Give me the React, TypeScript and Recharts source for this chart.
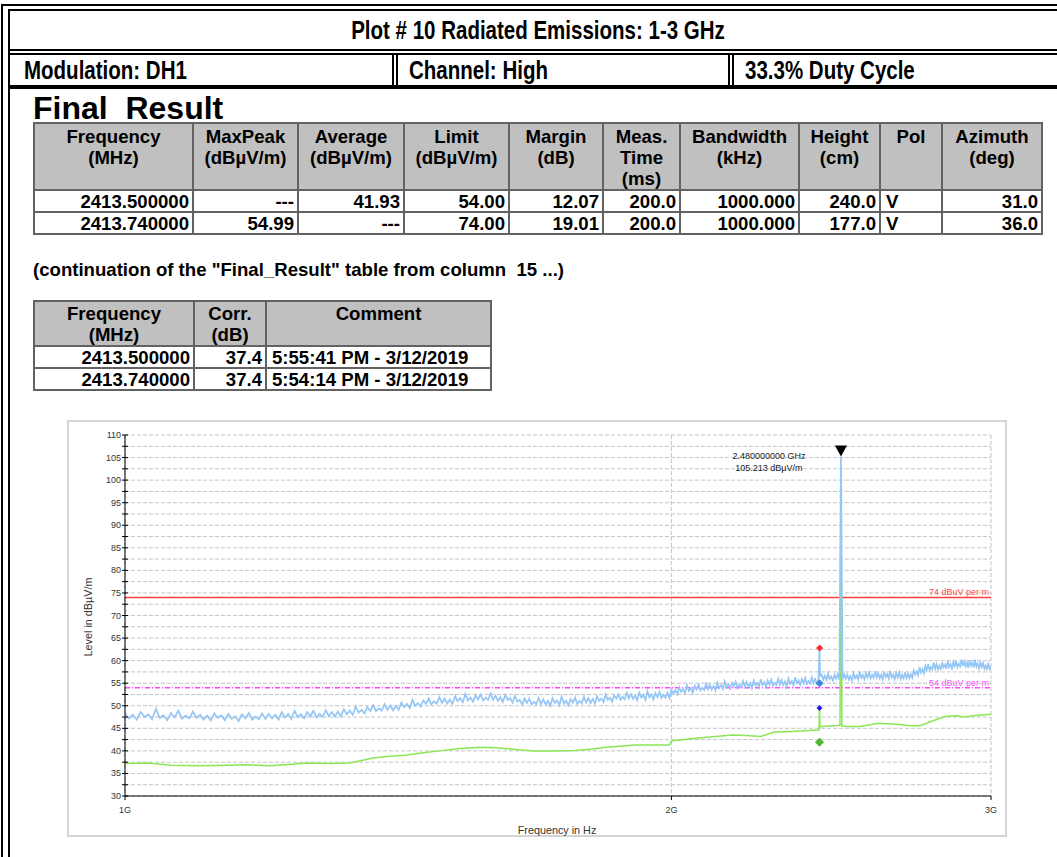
import React from 'react';
import { ComposedChart, Line, Scatter, XAxis, YAxis, CartesianGrid, ReferenceLine } from 'recharts';

// peak trace (MaxPeak, light blue), one value every 5 MHz from 1 GHz to 3 GHz
const PEAK_START_GHZ = 1.0;
const PEAK_STEP_GHZ = 0.005;
const PEAK_LEVELS = [
  // 1.0
  48.3, 47.2, 48.0, 46.9, 48.6, 47.5, 48.1, 47.0, 49.3, 47.3, 47.9, 46.8, 48.4, 47.4, 48.9, 47.1, 47.8, 47.2, 48.7, 47.3,
  // 1.1
  48.0, 46.9, 47.8, 46.7, 48.3, 47.3, 47.9, 46.8, 48.2, 47.1, 47.7, 46.6, 48.1, 47.2, 48.4, 46.9, 47.6, 47.0, 48.3, 47.1,
  // 1.2
  48.2, 47.2, 48.0, 46.9, 48.6, 47.4, 48.2, 47.1, 48.9, 47.5, 48.1, 47.2, 48.6, 47.6, 48.9, 47.4, 48.2, 47.5, 49.0, 47.7,
  // 1.3
  48.6, 47.6, 48.7, 47.6, 49.2, 48.1, 48.9, 48.0, 49.8, 48.5, 49.1, 48.3, 49.7, 48.8, 50.1, 48.8, 49.4, 48.9, 50.4, 49.1,
  // 1.4
  50.1, 49.0, 50.0, 49.1, 50.7, 49.7, 50.4, 49.5, 51.3, 50.0, 50.6, 49.8, 51.2, 50.4, 51.6, 50.3, 51.0, 50.5, 51.9, 50.6,
  // 1.5
  51.6, 50.5, 51.4, 50.4, 52.1, 51.0, 51.7, 50.8, 52.6, 51.2, 51.8, 50.9, 52.3, 51.4, 52.5, 51.2, 51.8, 51.3, 52.7, 51.3,
  // 1.6
  52.2, 51.1, 51.9, 50.8, 52.4, 51.3, 51.7, 50.7, 52.2, 50.9, 51.3, 50.3, 51.6, 50.6, 51.6, 50.3, 50.9, 50.3, 51.7, 50.4,
  // 1.7
  51.4, 50.3, 51.1, 50.0, 51.7, 50.6, 51.2, 50.1, 52.0, 50.5, 51.1, 50.1, 51.5, 50.7, 51.8, 50.4, 51.1, 50.5, 52.0, 50.7,
  // 1.8
  51.7, 50.6, 51.5, 50.5, 52.1, 51.1, 51.6, 50.8, 52.5, 51.3, 51.8, 50.9, 52.3, 51.6, 52.5, 51.3, 52.0, 51.4, 52.9, 51.6,
  // 1.9
  52.6, 51.5, 52.3, 51.2, 52.9, 51.8, 52.4, 51.3, 53.2, 51.9, 52.5, 51.4, 52.8, 51.9, 53.1, 51.7, 52.4, 51.8, 52.9, 51.7,
  // 2.0
  53.6, 52.7, 53.5, 52.5, 54.1, 53.1, 53.7, 52.8, 54.5, 53.3, 53.9, 52.9, 54.4, 53.6, 54.7, 53.4, 54.0, 53.5, 54.9, 53.7,
  // 2.1
  54.7, 53.6, 54.4, 53.4, 55.1, 54.0, 54.6, 53.7, 55.4, 54.1, 54.7, 53.8, 55.1, 54.3, 55.3, 54.0, 54.6, 54.1, 55.5, 54.2,
  // 2.2
  55.3, 54.2, 55.0, 53.9, 55.6, 54.5, 55.1, 54.1, 55.9, 54.6, 55.2, 54.2, 55.6, 54.7, 55.8, 54.5, 55.1, 54.6, 56.0, 54.7,
  // 2.3
  55.7, 54.6, 55.4, 54.3, 56.0, 54.9, 55.5, 54.5, 56.3, 55.0, 55.6, 54.6, 55.9, 55.0, 56.2, 54.8, 55.4, 54.9, 56.3, 55.0,
  // 2.4
  55.9, 55.0, 55.6, 56.6, 56.9, 55.8, 56.6, 55.7, 57.1, 55.9, 56.5, 55.6, 56.9, 56.0, 57.0, 55.8, 105.2, 55.9, 57.0, 56.0,
  // 2.5
  56.9, 55.8, 56.6, 55.6, 57.2, 56.1, 56.7, 55.8, 57.5, 56.2, 56.8, 55.9, 57.2, 56.3, 57.4, 56.1, 56.8, 56.2, 57.6, 56.3,
  // 2.6
  57.2, 56.1, 56.9, 55.9, 57.5, 56.4, 57.0, 56.0, 57.7, 56.3, 56.9, 55.9, 57.3, 56.3, 57.4, 56.0, 56.8, 56.1, 57.4, 56.1,
  // 2.7
  57.1, 56.1, 57.0, 56.2, 57.8, 56.9, 57.6, 56.8, 58.6, 57.4, 58.1, 57.2, 58.8, 57.9, 59.2, 57.9, 58.6, 58.1, 59.6, 58.2,
  // 2.8
  59.2, 58.1, 58.9, 57.9, 59.6, 58.5, 59.1, 58.2, 60.0, 58.6, 59.2, 58.3, 59.7, 58.8, 59.9, 58.6, 59.3, 58.7, 60.2, 58.8,
  // 2.9
  59.8, 58.7, 59.5, 58.4, 60.1, 58.9, 59.5, 58.5, 60.2, 58.7, 59.3, 58.3, 59.6, 58.6, 59.5, 58.2, 58.9, 58.2, 59.3, 58.2,
  58.6,
];
const PEAK_SPIKE_GHZ = [2.4135];
const PEAK_SPIKE_LEVELS = [62.8];

// average trace (green)
const AVG_GHZ = [
  1.0, 1.03, 1.06, 1.1, 1.14, 1.17, 1.2, 1.23, 1.26, 1.3, 1.33, 1.37, 1.4, 1.43, 1.46, 1.49, 1.53, 1.57, 1.6, 1.64,
  1.68, 1.72, 1.77, 1.81, 1.84, 1.88, 1.91, 1.95, 1.995, 2.0, 2.05, 2.1, 2.16, 2.2, 2.24, 2.28, 2.33, 2.38, 2.412,
  2.4135, 2.415, 2.42, 2.47, 2.477, 2.48, 2.483, 2.5, 2.54, 2.6, 2.66, 2.7, 2.74, 2.78, 2.83, 2.87, 2.9, 2.95, 3.0,
];
const AVG_LEVELS = [
  37.2, 37.3, 36.8, 36.7, 36.8, 36.9, 36.7, 37.0, 37.3, 37.2, 37.3, 38.4, 38.8, 39.1, 39.6, 40.0, 40.5, 40.8, 40.7, 40.3,
  40.0, 40.0, 40.1, 40.4, 40.8, 41.1, 41.3, 41.3, 41.3, 42.2, 42.7, 43.1, 43.5, 43.4, 43.2, 44.2, 44.3, 44.5, 44.6,
  49.5, 45.3, 45.4, 45.6, 45.6, 100.0, 45.5, 45.4, 45.4, 46.1, 45.9, 45.6, 45.5, 46.5, 47.6, 47.8, 47.5, 47.9, 48.1,
];

// final / preview result markers
const FINAL_PEAK_GHZ = [2.41374];
const FINAL_PEAK_LEVELS = [54.99];
const FINAL_AVG_GHZ = [2.4135];
const FINAL_AVG_LEVELS = [41.93];
const PREVIEW_PEAK_GHZ = [2.41374];
const PREVIEW_PEAK_LEVELS = [62.8];
const PREVIEW_AVG_GHZ = [2.4135];
const PREVIEW_AVG_LEVELS = [49.5];

const MARKER_GHZ = [2.48];
const MARKER_LEVELS = [105.213];
const MARKER_TEXT = ['2.480000000 GHz', '105.213 dBµV/m'];

const LIMIT_PEAK = 74;
const LIMIT_AVG = 54;
const LIMIT_PEAK_LABEL = '74 dBuV per m';
const LIMIT_AVG_LABEL = '54 dBuV per m';

const X_TICKS = [1, 2, 3];
const X_TICK_LABELS = ['1G', '2G', '3G'];
const Y_TICKS = [
  30, 32.5, 35, 37.5, 40, 42.5, 45, 47.5, 50, 52.5, 55, 57.5, 60, 62.5, 65, 67.5, 70, 72.5, 75, 77.5, 80, 82.5, 85,
  87.5, 90, 92.5, 95, 97.5, 100, 102.5, 105, 107.5, 110,
];

// tables
const T1_HEAD = [
  ['Frequency', '(MHz)'], ['MaxPeak', '(dBµV/m)'], ['Average', '(dBµV/m)'], ['Limit', '(dBµV/m)'], ['Margin', '(dB)'],
  ['Meas.', 'Time', '(ms)'], ['Bandwidth', '(kHz)'], ['Height', '(cm)'], ['Pol'], ['Azimuth', '(deg)'],
];
const T1_ROWS = [
  ['2413.500000', '---', '41.93', '54.00', '12.07', '200.0', '1000.000', '240.0', 'V', '31.0'],
  ['2413.740000', '54.99', '---', '74.00', '19.01', '200.0', '1000.000', '177.0', 'V', '36.0'],
];
const T2_HEAD = [['Frequency', '(MHz)'], ['Corr.', '(dB)'], ['Comment']];
const T2_ROWS = [
  ['2413.500000', '37.4', '5:55:41 PM - 3/12/2019'],
  ['2413.740000', '37.4', '5:54:14 PM - 3/12/2019'],
];

const SANS = '"Liberation Sans", Arial, Helvetica, sans-serif';

const peakData = PEAK_LEVELS.map((v, i) => ({ f: +(PEAK_START_GHZ + i * PEAK_STEP_GHZ).toFixed(4), v }))
  .concat(PEAK_SPIKE_GHZ.map((f, i) => ({ f, v: PEAK_SPIKE_LEVELS[i] })))
  .sort((a, b) => a.f - b.f);
const avgData = AVG_GHZ.map((f, i) => ({ f, v: AVG_LEVELS[i] }));
const pts = (fs: number[], vs: number[]) => fs.map((f, i) => ({ f, v: vs[i] }));

const YTick = (props: any) => {
  const { x, y, payload } = props;
  const major = payload.value % 5 === 0;
  return (
    <g>
      <line x1={x - 3} x2={x + 3} y1={y} y2={y} stroke="#000" />
      {major && (
        <text x={x - 4} y={y + 3} textAnchor="end" fontSize={9} fill="#333" fontFamily={SANS}>
          {payload.value}
        </text>
      )}
    </g>
  );
};

const XTick = (props: any) => {
  const { x, y, payload } = props;
  const idx = X_TICKS.indexOf(payload.value);
  return (
    <g>
      <line x1={x} x2={x} y1={y} y2={y + 4} stroke="#000" />
      <text x={x} y={y + 17} textAnchor="middle" fontSize={9} fill="#333" fontFamily={SANS}>
        {X_TICK_LABELS[idx]}
      </text>
    </g>
  );
};

const diamond = (color: string, r: number) => (p: any) => (
  <polygon
    points={`${p.cx},${p.cy - r} ${p.cx + r},${p.cy} ${p.cx},${p.cy + r} ${p.cx - r},${p.cy}`}
    fill={color}
  />
);

const MarkerShape = (p: any) => (
  <g>
    <polygon points={`${p.cx - 6},${p.cy - 11} ${p.cx + 6},${p.cy - 11} ${p.cx},${p.cy}`} fill="#000" />
    <text x={p.cx - 72} y={p.cy + 2} textAnchor="middle" fontSize={9} fill="#222" fontFamily={SANS}>
      {MARKER_TEXT[0]}
    </text>
    <text x={p.cx - 72} y={p.cy + 14} textAnchor="middle" fontSize={9} fill="#222" fontFamily={SANS}>
      {MARKER_TEXT[1]}
    </text>
  </g>
);

const Chart = () => (
  <ComposedChart width={938} height={416} margin={{ top: 15, right: 15, bottom: 10, left: 17 }}>
    <CartesianGrid stroke="#c4c4c4" strokeDasharray="4 2" />
    <XAxis
      dataKey="f"
      type="number"
      scale="log"
      domain={[1, 3]}
      allowDataOverflow
      ticks={X_TICKS}
      interval={0}
      height={30}
      tickSize={0}
      tickMargin={0}
      tickLine={false}
      axisLine={{ stroke: '#000' }}
      tick={(p: any) => <XTick {...p} />}
    />
    <YAxis
      type="number"
      domain={[30, 110]}
      ticks={Y_TICKS}
      interval={0}
      width={40}
      tickSize={0}
      tickMargin={0}
      tickLine={false}
      axisLine={{ stroke: '#000' }}
      tick={(p: any) => <YTick {...p} />}
    />
    <ReferenceLine
      y={LIMIT_PEAK}
      stroke="#ff3c3c"
      strokeWidth={1.5}
      label={{ value: LIMIT_PEAK_LABEL, position: 'insideBottomRight', offset: 2, fill: '#ff4a4a', fontSize: 9, fontFamily: SANS }}
    />
    <ReferenceLine
      y={LIMIT_AVG}
      stroke="#ff44ff"
      strokeWidth={1.5}
      strokeDasharray="5 2 1 2"
      label={{ value: LIMIT_AVG_LABEL, position: 'insideBottomRight', offset: 2, fill: '#ff55ff', fontSize: 9, fontFamily: SANS }}
    />
    <Line data={avgData} dataKey="v" stroke="#8ae655" strokeWidth={1.5} dot={false} isAnimationActive={false} />
    <Line data={peakData} dataKey="v" stroke="#94c6f6" strokeWidth={1.7} dot={false} isAnimationActive={false} />
    <Scatter data={pts(PREVIEW_PEAK_GHZ, PREVIEW_PEAK_LEVELS)} dataKey="v" shape={diamond('#ff2a2a', 3.5)} isAnimationActive={false} />
    <Scatter data={pts(FINAL_PEAK_GHZ, FINAL_PEAK_LEVELS)} dataKey="v" shape={diamond('#3a8ad8', 4)} isAnimationActive={false} />
    <Scatter data={pts(PREVIEW_AVG_GHZ, PREVIEW_AVG_LEVELS)} dataKey="v" shape={diamond('#1c1cf0', 3)} isAnimationActive={false} />
    <Scatter data={pts(FINAL_AVG_GHZ, FINAL_AVG_LEVELS)} dataKey="v" shape={diamond('#4cb82c', 4.5)} isAnimationActive={false} />
    <Scatter data={pts(MARKER_GHZ, MARKER_LEVELS)} dataKey="v" shape={(p: any) => <MarkerShape {...p} />} isAnimationActive={false} />
  </ComposedChart>
);

const abs = (left: number, top: number, w: number, h: number, extra: React.CSSProperties = {}): React.CSSProperties => ({
  position: 'absolute', left, top, width: w, height: h, ...extra,
});

const Table = ({ left, top, cols, head, rows, headH, padTop, align }: any) => {
  const bd = '2px solid #626262';
  return (
    <table
      style={{
        position: 'absolute', left, top, borderCollapse: 'collapse', tableLayout: 'fixed',
        fontFamily: SANS, fontWeight: 'bold', fontSize: 18.6, color: '#000',
      }}
    >
      <colgroup>
        {cols.map((w: number, i: number) => <col key={i} style={{ width: w }} />)}
      </colgroup>
      <tbody>
        <tr style={{ height: headH }}>
          {head.map((lines: string[], i: number) => (
            <td key={i} style={{ border: bd, background: '#c0c0c0', textAlign: 'center', verticalAlign: 'top', padding: `${padTop}px 2px 0 2px`, lineHeight: '21px', overflow: 'hidden' }}>
              {lines.map((l, j) => <div key={j}>{l}</div>)}
            </td>
          ))}
        </tr>
        {rows.map((r: string[], ri: number) => (
          <tr key={ri} style={{ height: 22 }}>
            {r.map((c, i) => (
              <td key={i} style={{ border: bd, background: '#fff', textAlign: align[i], padding: align[i] === 'left' ? '0 0 0 5px' : '0 3px 0 0', lineHeight: '19px', whiteSpace: 'nowrap' }}>
                {c}
              </td>
            ))}
          </tr>
        ))}
      </tbody>
    </table>
  );
};

const narrow = (origin: string): React.CSSProperties => ({
  display: 'inline-block', transform: 'scaleX(0.82)', transformOrigin: origin, fontFamily: SANS,
  fontWeight: 'bold', fontSize: 25, whiteSpace: 'nowrap', lineHeight: '30px',
});

export default function App() {
  return (
    <div style={abs(0, 0, 1057, 857, { background: '#fff', overflow: 'hidden', color: '#000' })}>
      {/* page frame */}
      <div style={abs(1, 4, 2, 853, { background: '#000' })} />
      <div style={abs(8, 9, 2, 848, { background: '#000' })} />
      <div style={abs(1, 4, 1056, 2, { background: '#000' })} />
      <div style={abs(8, 9, 1049, 2, { background: '#000' })} />
      <div style={abs(8, 49, 1049, 2, { background: '#000' })} />
      <div style={abs(8, 53, 1049, 2, { background: '#000' })} />
      <div style={abs(8, 85, 1049, 4, { background: '#000' })} />
      <div style={abs(392, 53, 2, 32, { background: '#000' })} />
      <div style={abs(396, 53, 2, 32, { background: '#000' })} />
      <div style={abs(728, 53, 2, 32, { background: '#000' })} />
      <div style={abs(732, 53, 2, 32, { background: '#000' })} />

      <div style={{ position: 'absolute', left: 538, top: 15, width: 0, height: 30 }}>
        <span style={{ ...narrow('center'), position: 'absolute', left: 0, transform: 'translateX(-50%) scaleX(0.82)' }}>
          Plot # 10 Radiated Emissions: 1-3 GHz
        </span>
      </div>
      <div style={abs(24, 55, 360, 30)}><span style={narrow('left')}>Modulation: DH1</span></div>
      <div style={abs(409, 55, 310, 30)}><span style={narrow('left')}>Channel: High</span></div>
      <div style={abs(745, 55, 310, 30)}><span style={narrow('left')}>33.3% Duty Cycle</span></div>

      <div style={abs(33, 92, 400, 32, { fontFamily: SANS, fontWeight: 'bold', fontSize: 32, lineHeight: '32px', whiteSpace: 'pre' })}>
        Final  Result
      </div>

      <Table
        left={33} top={122} cols={[159, 105, 106, 105, 94, 77, 119, 81, 62, 100]}
        head={T1_HEAD} rows={T1_ROWS} headH={67} padTop={2}
        align={['right', 'right', 'right', 'right', 'right', 'right', 'right', 'right', 'left', 'right']}
      />

      <div style={abs(33, 259, 700, 22, { fontFamily: SANS, fontWeight: 'bold', fontSize: 18.6, lineHeight: '22px', whiteSpace: 'pre' })}>
        (continuation of the "Final_Result" table from column  15 ...)
      </div>

      <Table
        left={33} top={300} cols={[160, 72, 225]}
        head={T2_HEAD} rows={T2_ROWS} headH={45} padTop={1}
        align={['right', 'right', 'left']}
      />

      {/* chart */}
      <div style={abs(67, 420, 940, 417, { border: '2px solid #d4d4d4', boxSizing: 'border-box' })} />
      <div style={abs(68, 420, 938, 416)}>
        <Chart />
      </div>
      <div style={{ position: 'absolute', left: 88, top: 617, width: 0, height: 0 }}>
        <div style={{ position: 'absolute', transform: 'translate(-50%, -50%) rotate(-90deg)', whiteSpace: 'nowrap', fontFamily: SANS, fontSize: 10.8, color: '#333' }}>
          Level in dBµV/m
        </div>
      </div>
      <div style={{ position: 'absolute', left: 557, top: 830, width: 0, height: 0 }}>
        <div style={{ position: 'absolute', transform: 'translate(-50%, -50%)', whiteSpace: 'nowrap', fontFamily: SANS, fontSize: 10.8, color: '#333' }}>
          Frequency in Hz
        </div>
      </div>
    </div>
  );
}
